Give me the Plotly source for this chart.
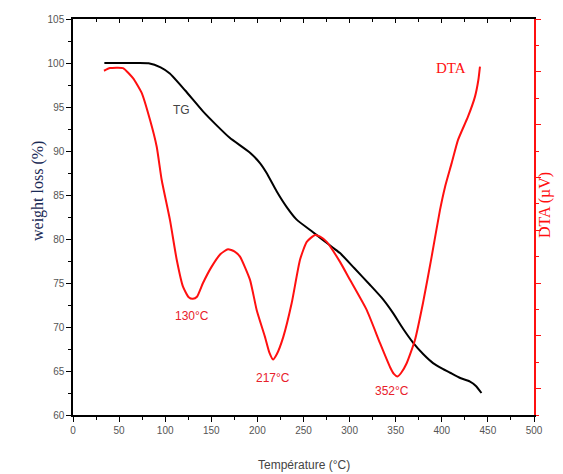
import plotly.graph_objects as go

# TG curve (weight loss %, left axis)
tg_temp = [34, 50, 70, 82, 95, 105, 121.5, 141, 155, 170, 192, 203, 210, 221, 232, 242.6, 260,
           271, 282, 289.6, 305, 322, 335, 347, 358, 369, 380, 390.5, 400, 409, 420, 430.6, 437, 443]
tg_val = [100, 100, 100, 99.97, 99.5, 98.8, 96.9, 94.5, 93.0, 91.5, 89.8, 88.6, 87.5, 85.4, 83.6, 82.2, 80.8,
          79.9, 79.0, 78.4, 76.7, 74.8, 73.3, 71.6, 69.8, 68.2, 66.9, 65.9, 65.3, 64.8, 64.2, 63.8, 63.3, 62.5]

# DTA curve (arbitrary units, right axis)
dta_temp = [33.6, 40.1, 54.2, 65.1, 74.5, 83.5, 90.8, 96.2, 105.2, 112.5, 119.3, 125.5, 130, 134.5,
            141, 150.4, 160, 168.1, 175, 181.1, 192, 199.2, 208.2, 213, 217, 221, 228.1, 237.2, 246.2,
            253.5, 262.5, 268, 275.2, 289.6, 300.4, 318.5, 333, 343.8, 348, 352, 356, 361.9, 370.9,
            379.6, 389, 398, 403.5, 410.7, 417.6, 428.4, 436, 439.6, 441.4]
dta_val = [6.52, 6.57, 6.57, 6.38, 6.10, 5.59, 5.08, 4.45, 3.69, 2.94, 2.43, 2.23, 2.20, 2.24,
           2.50, 2.81, 3.05, 3.14, 3.10, 3.00, 2.56, 1.99, 1.48, 1.18, 1.05, 1.15, 1.48, 2.12, 2.94,
           3.28, 3.41, 3.38, 3.28, 2.90, 2.56, 1.99, 1.36, 0.91, 0.78, 0.73, 0.80, 0.98, 1.42,
           2.12, 3.00, 3.88, 4.32, 4.77, 5.21, 5.65, 6.03, 6.34, 6.60]

peak_labels = ["130°C", "217°C", "352°C"]
peak_x = [129, 217, 346]
peak_y = [71.25, 64.2, 62.7]

SANS = "Liberation Sans, Arial, sans-serif"
SERIF = "Liberation Serif, Times New Roman, serif"

fig = go.Figure()
fig.add_trace(go.Scatter(x=tg_temp, y=tg_val, mode="lines",
                         line=dict(color="black", width=2, shape="spline", smoothing=0.5),
                         showlegend=False, xaxis="x", yaxis="y"))
fig.add_trace(go.Scatter(x=dta_temp, y=dta_val, mode="lines",
                         line=dict(color="#ff1010", width=2, shape="spline", smoothing=0.5),
                         showlegend=False, xaxis="x", yaxis="y2"))
# empty trace so the top tick axis is drawn
fig.add_trace(go.Scatter(x=[None], y=[None], mode="lines", showlegend=False, hoverinfo="skip",
                         xaxis="x3", yaxis="y"))

tickfont = dict(family=SANS, size=10, color="#555555")

fig.update_layout(
    width=563, height=474,
    margin=dict(l=73, r=29, t=19, b=59),
    paper_bgcolor="white", plot_bgcolor="white",
    xaxis=dict(range=[0, 500], dtick=50, tick0=0, showgrid=False, zeroline=False,
               showline=True, linecolor="black", linewidth=1.5, mirror=True,
               ticks="outside", ticklen=5, tickwidth=1, tickcolor="black", tickfont=tickfont,
               minor=dict(dtick=25, ticks="outside", ticklen=3, tickcolor="black")),
    xaxis3=dict(range=[0, 500], dtick=50, tick0=0, overlaying="x", side="top", anchor="y",
                showgrid=False, zeroline=False, showline=True, linecolor="black", linewidth=1.5,
                ticks="inside", ticklen=4, tickcolor="black", showticklabels=False,
                minor=dict(dtick=25, ticks="inside", ticklen=3, tickcolor="black")),
    yaxis=dict(range=[60, 105], dtick=5, tick0=60, showgrid=False, zeroline=False,
               showline=True, linecolor="black", linewidth=1.5,
               ticks="outside", ticklen=5, tickwidth=1, tickcolor="black", tickfont=tickfont,
               minor=dict(dtick=2.5, ticks="outside", ticklen=3, tickcolor="black")),
    yaxis2=dict(range=[0, 7.5], tick0=0.5, dtick=1, overlaying="y", side="right", anchor="x",
                showgrid=False, zeroline=False, showline=True, linecolor="#ff1010", linewidth=1.5,
                ticks="outside", ticklen=5, tickwidth=1, tickcolor="#ff1010", showticklabels=False,
                minor=dict(dtick=0.5, tick0=0, ticks="outside", ticklen=3, tickcolor="#ff1010")),
)

ann = []
for lab, x, y in zip(peak_labels, peak_x, peak_y):
    ann.append(dict(x=x, y=y, xref="x", yref="y", text=lab, showarrow=False,
                    font=dict(family=SANS, size=12, color="#e8202a")))
ann.append(dict(x=117.9, y=94.66, xref="x", yref="y", text="TG", showarrow=False,
                font=dict(family=SANS, size=12, color="#444444")))
ann.append(dict(x=410, y=99.4, xref="x", yref="y", text="DTA", showarrow=False,
                font=dict(family=SERIF, size=15, color="#ff1010")))
ann.append(dict(x=0.5, y=-0.126, xref="paper", yref="paper", text="Température (°C)", showarrow=False,
                font=dict(family=SANS, size=12, color="#444444"), yanchor="middle"))
ann.append(dict(x=-0.0998, y=(415 - 191) / 396, xref="paper", yref="paper", text="weight loss (%)",
                showarrow=False, textangle=-90, font=dict(family=SERIF, size=16, color="#1a2a55")))
ann.append(dict(x=(556 - 73) / 461, y=(415 - 205) / 396, xref="paper", yref="paper", text="DTA (µV)",
                showarrow=False, textangle=-90, font=dict(family=SERIF, size=16, color="#ff1010")))
fig.update_layout(annotations=ann)

fig.write_html("out.html", config={"displayModeBar": False},
               post_script="document.body.style.margin='0';document.body.style.overflow='hidden';")
